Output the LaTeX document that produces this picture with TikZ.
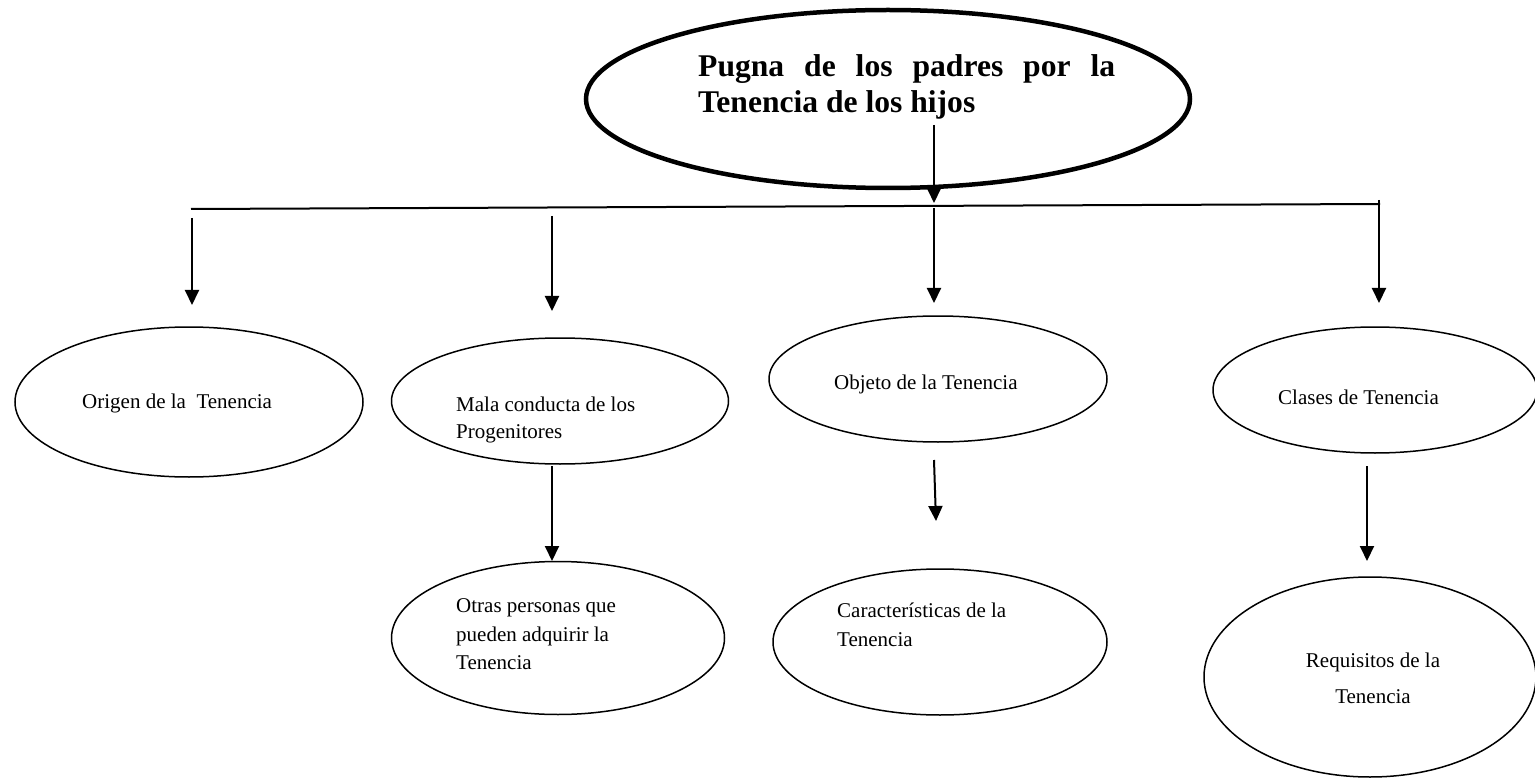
\documentclass[tikz,border=0pt]{standalone}
\usepackage{fontspec}
\setmainfont{Liberation Serif}
\usetikzlibrary{shapes.geometric,arrows.meta}
\begin{document}
\begin{tikzpicture}[x=1pt,y=-1pt,
  bubble/.style={draw,ellipse,line width=1.5pt,inner sep=0pt},
  lbl/.style={anchor=base west,inner sep=0pt,font=\fontsize{21}{25}\selectfont},
  lblc/.style={anchor=base,inner sep=0pt,font=\fontsize{21}{25}\selectfont},
  ttl/.style={anchor=base west,inner sep=0pt,font=\fontsize{31.6}{36}\selectfont\bfseries},
  conn/.style={line width=2pt,-{Triangle[length=15pt,width=14pt]}},
  bus/.style={line width=2pt}]
\useasboundingbox (0,0) rectangle (1535,778);
\fill[white] (0,0) rectangle (1535,778);

% main ellipse
\node[bubble,line width=4.5pt,minimum width=604pt,minimum height=178pt] (main) at (888,99) {};
\node[ttl] (t1) at (698,77) {\hbox to 417pt{Pugna\hfill de\hfill los\hfill padres\hfill por\hfill la}};
\node[ttl] (t2) at (698,113) {Tenencia de los hijos};

% first level ellipses
\node[bubble,minimum width=348pt,minimum height=150pt] (orig) at (189,402) {};
\node[bubble,minimum width=337pt,minimum height=126pt] (mala) at (560,401) {};
\node[bubble,minimum width=338pt,minimum height=126pt] (obj) at (938,379) {};
\node[bubble,minimum width=324pt,minimum height=126pt] (clas) at (1375,390) {};

% second level ellipses
\node[bubble,minimum width=333pt,minimum height=153pt] (otras) at (558,638) {};
\node[bubble,minimum width=334pt,minimum height=146pt] (carac) at (940,642) {};
\node[bubble,minimum width=332pt,minimum height=200pt] (req) at (1370,677) {};

% labels
\node[lbl] (l1) at (82,408) {Origen de la\ \ Tenencia};
\node[lbl] (l2a) at (456,411) {Mala conducta de los};
\node[lbl] (l2b) at (456,438) {Progenitores};
\node[lbl] (l3) at (834,389) {Objeto de la Tenencia};
\node[lbl] (l4) at (1278,404) {Clases de Tenencia};
\node[lbl] (l5a) at (456,612) {Otras personas que};
\node[lbl] (l5b) at (456,641) {pueden adquirir la};
\node[lbl] (l5c) at (456,669) {Tenencia};
\node[lbl] (l6a) at (837,617) {Características de la};
\node[lbl] (l6b) at (837,646) {Tenencia};
\node[lblc] (l7a) at (1373,667) {Requisitos de la};
\node[lblc] (l7b) at (1373,703) {Tenencia};

% connector coordinates
\coordinate (m0) at (934,125);
\coordinate (m1) at (934,203);
\coordinate (bL) at (191,209);
\coordinate (bR) at (1380,204);
\coordinate (r0) at (1379,200);
\coordinate (r1) at (1379,303);
\coordinate (a0) at (192,218);
\coordinate (a1) at (192,305);
\coordinate (b0) at (552,216);
\coordinate (b1) at (552,311);
\coordinate (c0) at (934,208);
\coordinate (c1) at (934,303);
\coordinate (d0) at (552,466);
\coordinate (d1) at (552,561);
\coordinate (e0) at (934,460);
\coordinate (e1) at (936,521);
\coordinate (f0) at (1367,466);
\coordinate (f1) at (1367,561);

\draw[conn] (m0) -- (m1);
\draw[bus] (bL) -- (bR);
\draw[conn] (r0) -- (r1);
\draw[conn] (a0) -- (a1);
\draw[conn] (b0) -- (b1);
\draw[conn] (c0) -- (c1);
\draw[conn] (d0) -- (d1);
\draw[conn] (e0) -- (e1);
\draw[conn] (f0) -- (f1);
\end{tikzpicture}
\end{document}
